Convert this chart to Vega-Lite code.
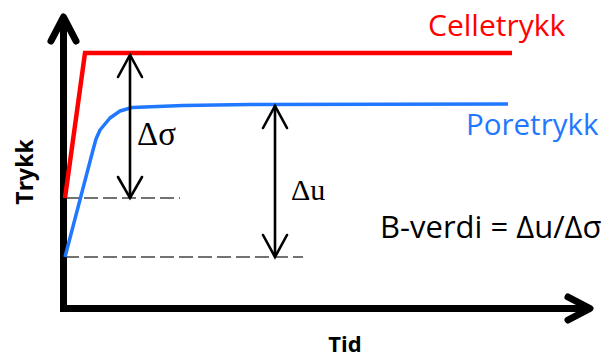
{
  "$schema": "https://vega.github.io/schema/vega-lite/v6.json",
  "width": 608,
  "height": 358,
  "padding": 0,
  "autosize": {"type": "fit", "contains": "padding"},
  "config": {"view": {"stroke": null}},
  "datasets": {
    "lines": [
      {"id": "d1", "kind": "dash", "o": 1, "x": 65, "y": 198},
      {"id": "d1", "kind": "dash", "o": 2, "x": 180, "y": 198},
      {"id": "d2", "kind": "dash", "o": 1, "x": 65, "y": 257},
      {"id": "d2", "kind": "dash", "o": 2, "x": 303, "y": 257},
      {"id": "ax", "kind": "axis", "o": 1, "x": 63.5, "y": 18},
      {"id": "ax", "kind": "axis", "o": 2, "x": 63.5, "y": 308.5},
      {"id": "ax", "kind": "axis", "o": 3, "x": 589, "y": 308.5},
      {"id": "yh", "kind": "axishead", "o": 1, "x": 51, "y": 41},
      {"id": "yh", "kind": "axishead", "o": 2, "x": 63.5, "y": 17},
      {"id": "yh", "kind": "axishead", "o": 3, "x": 76, "y": 41},
      {"id": "xh", "kind": "axishead", "o": 1, "x": 568, "y": 297},
      {"id": "xh", "kind": "axishead", "o": 2, "x": 590, "y": 308.5},
      {"id": "xh", "kind": "axishead", "o": 3, "x": 568, "y": 320},
      {"id": "cell", "kind": "cell", "o": 1, "x": 65, "y": 198},
      {"id": "cell", "kind": "cell", "o": 2, "x": 85, "y": 53},
      {"id": "cell", "kind": "cell", "o": 3, "x": 512, "y": 53},
      {"id": "pore", "kind": "pore", "o": 1, "x": 65, "y": 257},
      {"id": "pore", "kind": "pore", "o": 2, "x": 93, "y": 150},
      {"id": "pore", "kind": "pore", "o": 3, "x": 96, "y": 139},
      {"id": "pore", "kind": "pore", "o": 4, "x": 100, "y": 130},
      {"id": "pore", "kind": "pore", "o": 5, "x": 110, "y": 118},
      {"id": "pore", "kind": "pore", "o": 6, "x": 120, "y": 111},
      {"id": "pore", "kind": "pore", "o": 7, "x": 132, "y": 107.5},
      {"id": "pore", "kind": "pore", "o": 8, "x": 183, "y": 105.5},
      {"id": "pore", "kind": "pore", "o": 9, "x": 250, "y": 104.5},
      {"id": "pore", "kind": "pore", "o": 10, "x": 508, "y": 104},
      {"id": "s1", "kind": "arrow", "o": 1, "x": 130, "y": 56},
      {"id": "s1", "kind": "arrow", "o": 2, "x": 130, "y": 197},
      {"id": "s1t", "kind": "arrow", "o": 1, "x": 118, "y": 77},
      {"id": "s1t", "kind": "arrow", "o": 2, "x": 130, "y": 55},
      {"id": "s1t", "kind": "arrow", "o": 3, "x": 142, "y": 77},
      {"id": "s1b", "kind": "arrow", "o": 1, "x": 118, "y": 177},
      {"id": "s1b", "kind": "arrow", "o": 2, "x": 130, "y": 198},
      {"id": "s1b", "kind": "arrow", "o": 3, "x": 142, "y": 177},
      {"id": "s2", "kind": "arrow", "o": 1, "x": 275, "y": 106},
      {"id": "s2", "kind": "arrow", "o": 2, "x": 275, "y": 256},
      {"id": "s2t", "kind": "arrow", "o": 1, "x": 263, "y": 128},
      {"id": "s2t", "kind": "arrow", "o": 2, "x": 275, "y": 106},
      {"id": "s2t", "kind": "arrow", "o": 3, "x": 287, "y": 128},
      {"id": "s2b", "kind": "arrow", "o": 1, "x": 263, "y": 235},
      {"id": "s2b", "kind": "arrow", "o": 2, "x": 275, "y": 257},
      {"id": "s2b", "kind": "arrow", "o": 3, "x": 287, "y": 235}
    ],
    "labels": [
      {"id": "cell", "t": "Celletrykk", "x": 428, "y": 36},
      {"id": "pore", "t": "Poretrykk", "x": 466, "y": 135},
      {"id": "ds", "t": "Δσ", "x": 137, "y": 145},
      {"id": "du", "t": "Δu", "x": 291, "y": 200},
      {"id": "b", "t": "B-verdi = Δu/Δσ", "x": 380, "y": 238},
      {"id": "trykk", "t": "Trykk", "x": 33, "y": 172},
      {"id": "tid", "t": "Tid", "x": 345, "y": 352}
    ]
  },
  "layer": [
    {
      "data": {"name": "lines"},
      "transform": [{"filter": "datum.kind == 'dash'"}],
      "mark": {"type": "line", "color": "#444444", "strokeWidth": 1.6, "strokeDash": [14, 5]},
      "encoding": {
        "x": {"field": "x", "type": "quantitative", "scale": {"domain": [0, 608], "nice": false, "zero": false}, "axis": null},
        "y": {"field": "y", "type": "quantitative", "scale": {"domain": [0, 358], "nice": false, "zero": false, "reverse": true}, "axis": null},
        "detail": {"field": "id"},
        "order": {"field": "o"}
      }
    },
    {
      "data": {"name": "lines"},
      "transform": [{"filter": "datum.kind == 'axis'"}],
      "mark": {"type": "line", "color": "#000000", "strokeWidth": 7, "strokeJoin": "miter", "strokeCap": "butt"},
      "encoding": {
        "x": {"field": "x", "type": "quantitative"},
        "y": {"field": "y", "type": "quantitative"},
        "detail": {"field": "id"},
        "order": {"field": "o"}
      }
    },
    {
      "data": {"name": "lines"},
      "transform": [{"filter": "datum.kind == 'axishead'"}],
      "mark": {"type": "line", "color": "#000000", "strokeWidth": 7, "strokeJoin": "round", "strokeCap": "round"},
      "encoding": {
        "x": {"field": "x", "type": "quantitative"},
        "y": {"field": "y", "type": "quantitative"},
        "detail": {"field": "id"},
        "order": {"field": "o"}
      }
    },
    {
      "data": {"name": "lines"},
      "transform": [{"filter": "datum.kind == 'cell'"}],
      "mark": {"type": "line", "color": "#ff0000", "strokeWidth": 4.5, "strokeJoin": "miter"},
      "encoding": {
        "x": {"field": "x", "type": "quantitative"},
        "y": {"field": "y", "type": "quantitative"},
        "detail": {"field": "id"},
        "order": {"field": "o"}
      }
    },
    {
      "data": {"name": "lines"},
      "transform": [{"filter": "datum.kind == 'pore'"}],
      "mark": {"type": "line", "color": "#1f78ff", "strokeWidth": 3.5, "strokeJoin": "round"},
      "encoding": {
        "x": {"field": "x", "type": "quantitative"},
        "y": {"field": "y", "type": "quantitative"},
        "detail": {"field": "id"},
        "order": {"field": "o"}
      }
    },
    {
      "data": {"name": "lines"},
      "transform": [{"filter": "datum.kind == 'arrow'"}],
      "mark": {"type": "line", "color": "#000000", "strokeWidth": 2.6, "strokeJoin": "miter", "strokeCap": "round"},
      "encoding": {
        "x": {"field": "x", "type": "quantitative"},
        "y": {"field": "y", "type": "quantitative"},
        "detail": {"field": "id"},
        "order": {"field": "o"}
      }
    },
    {
      "data": {"name": "labels"},
      "transform": [{"filter": "datum.id == 'cell'"}],
      "mark": {"type": "text", "font": "Open Sans", "fontSize": 30, "color": "#ff0000", "align": "left", "baseline": "alphabetic"},
      "encoding": {"x": {"field": "x", "type": "quantitative"}, "y": {"field": "y", "type": "quantitative"}, "text": {"field": "t"}}
    },
    {
      "data": {"name": "labels"},
      "transform": [{"filter": "datum.id == 'pore'"}],
      "mark": {"type": "text", "font": "Open Sans", "fontSize": 29.5, "color": "#1f78ff", "align": "left", "baseline": "alphabetic"},
      "encoding": {"x": {"field": "x", "type": "quantitative"}, "y": {"field": "y", "type": "quantitative"}, "text": {"field": "t"}}
    },
    {
      "data": {"name": "labels"},
      "transform": [{"filter": "datum.id == 'ds'"}],
      "mark": {"type": "text", "font": "Liberation Serif", "fontSize": 33, "color": "#000000", "align": "left", "baseline": "alphabetic"},
      "encoding": {"x": {"field": "x", "type": "quantitative"}, "y": {"field": "y", "type": "quantitative"}, "text": {"field": "t"}}
    },
    {
      "data": {"name": "labels"},
      "transform": [{"filter": "datum.id == 'du'"}],
      "mark": {"type": "text", "font": "Liberation Serif", "fontSize": 30, "color": "#000000", "align": "left", "baseline": "alphabetic"},
      "encoding": {"x": {"field": "x", "type": "quantitative"}, "y": {"field": "y", "type": "quantitative"}, "text": {"field": "t"}}
    },
    {
      "data": {"name": "labels"},
      "transform": [{"filter": "datum.id == 'b'"}],
      "mark": {"type": "text", "font": "Open Sans", "fontSize": 31, "color": "#000000", "align": "left", "baseline": "alphabetic"},
      "encoding": {"x": {"field": "x", "type": "quantitative"}, "y": {"field": "y", "type": "quantitative"}, "text": {"field": "t"}}
    },
    {
      "data": {"name": "labels"},
      "transform": [{"filter": "datum.id == 'trykk'"}],
      "mark": {"type": "text", "font": "Open Sans", "fontSize": 23, "fontWeight": "bold", "color": "#000000", "align": "center", "baseline": "alphabetic", "angle": 270},
      "encoding": {"x": {"field": "x", "type": "quantitative"}, "y": {"field": "y", "type": "quantitative"}, "text": {"field": "t"}}
    },
    {
      "data": {"name": "labels"},
      "transform": [{"filter": "datum.id == 'tid'"}],
      "mark": {"type": "text", "font": "Open Sans", "fontSize": 22, "fontWeight": "bold", "color": "#000000", "align": "center", "baseline": "alphabetic"},
      "encoding": {"x": {"field": "x", "type": "quantitative"}, "y": {"field": "y", "type": "quantitative"}, "text": {"field": "t"}}
    }
  ]
}
